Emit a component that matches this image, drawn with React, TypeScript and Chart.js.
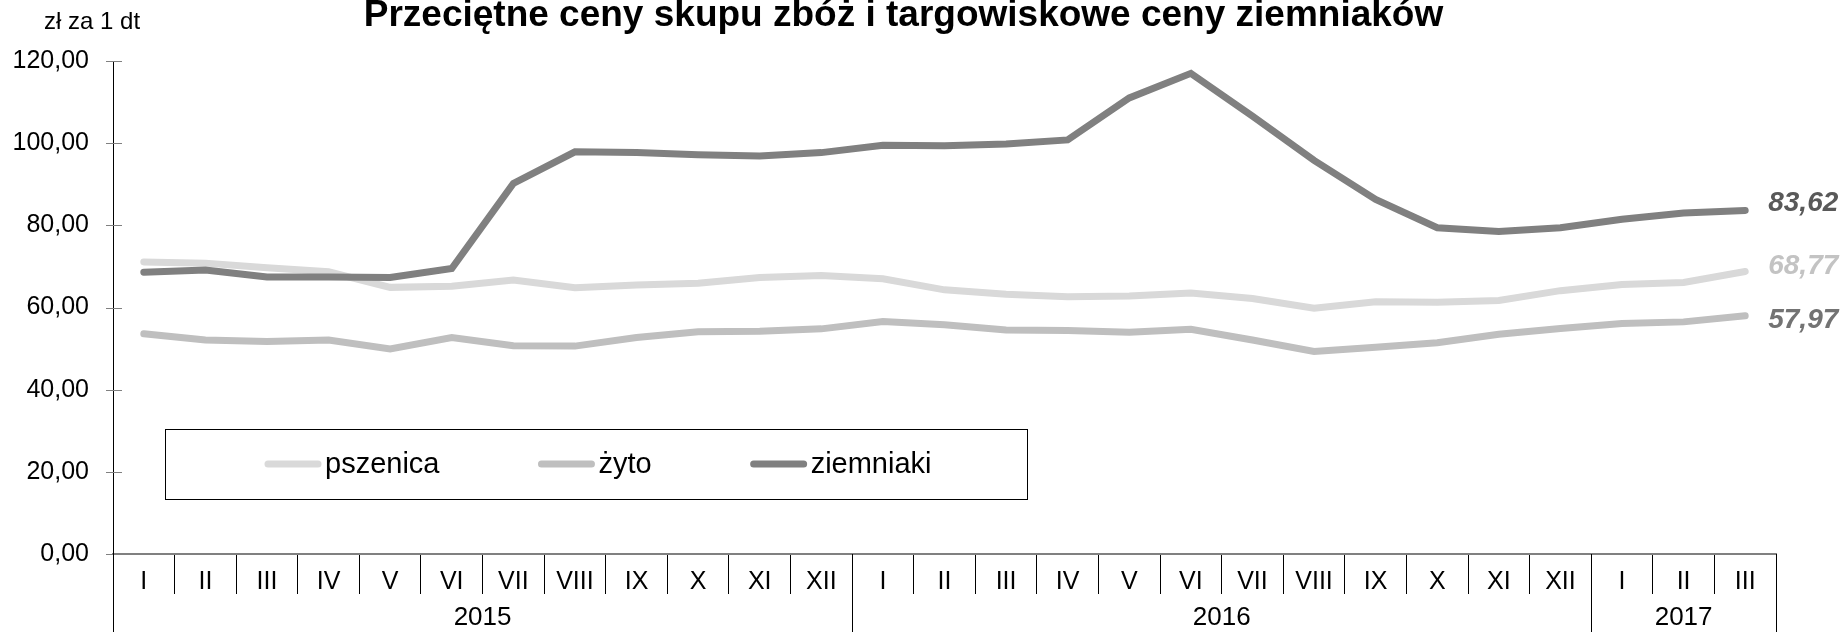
import React, { useEffect, useRef } from 'react';
import { Chart, registerables } from 'chart.js';

Chart.register(...registerables);

// ---- data ----
const months = ['I', 'II', 'III', 'IV', 'V', 'VI', 'VII', 'VIII', 'IX', 'X', 'XI', 'XII',
  'I', 'II', 'III', 'IV', 'V', 'VI', 'VII', 'VIII', 'IX', 'X', 'XI', 'XII',
  'I', 'II', 'III'];
const years = ['2015', '2016', '2017'];
const yearSpans = [12, 12, 3];

const seriesNames = ['pszenica', 'żyto', 'ziemniaki'];
const pszenica = [71.1, 70.8, 69.7, 68.7, 64.9, 65.2, 66.7, 64.8, 65.5, 65.9, 67.3, 67.8,
  67.0, 64.3, 63.2, 62.6, 62.8, 63.5, 62.2, 59.8, 61.4, 61.3, 61.7, 64.1,
  65.6, 66.1, 68.77];
const zyto = [53.6, 52.1, 51.7, 52.1, 49.9, 52.7, 50.7, 50.6, 52.7, 54.1, 54.2, 54.8,
  56.6, 55.8, 54.5, 54.4, 54.0, 54.7, 52.1, 49.3, 50.3, 51.4, 53.5, 54.9,
  56.1, 56.5, 57.97];
const ziemniaki = [68.6, 69.1, 67.4, 67.4, 67.3, 69.5, 90.2, 97.9, 97.7, 97.2, 96.9, 97.7,
  99.5, 99.4, 99.8, 100.8, 111.0, 117.0, 106.6, 95.8, 86.3, 79.4, 78.5, 79.4,
  81.5, 83.0, 83.62];

const yTicks = [0, 20, 40, 60, 80, 100, 120];
const yTickLabels = ['0,00', '20,00', '40,00', '60,00', '80,00', '100,00', '120,00'];

const titleText = 'Przeciętne ceny skupu zbóż i targowiskowe ceny ziemniaków';
const unitText = 'zł za 1 dt';

// ---- styles ----
const FONT = "'Liberation Sans', Arial, sans-serif";
const lineColors = ['#d9d9d9', '#bfbfbf', '#808080'];
const endLabelColors = ['#c3c3c3', '#737373', '#595959'];
const endLabelDy = [-5, 4, -7];

const fmt = (v: number) => v.toFixed(2).replace('.', ',');

const decorPlugin = {
  id: 'decor',
  afterDatasetsDraw(chart: any) {
    const ctx = chart.ctx;
    ctx.save();
    ctx.font = `italic bold 28px ${FONT}`;
    ctx.textAlign = 'left';
    ctx.textBaseline = 'middle';
    chart.data.datasets.forEach((ds: any, i: number) => {
      const meta = chart.getDatasetMeta(i);
      const last = meta.data[meta.data.length - 1];
      ctx.fillStyle = endLabelColors[i];
      ctx.fillText(fmt(ds.data[ds.data.length - 1]), last.x + 23, last.y + endLabelDy[i]);
    });
    ctx.restore();
  },
  afterDraw(chart: any) {
    const ctx = chart.ctx;
    const xs = chart.scales.x;
    const ys = chart.scales.y;
    const area = chart.chartArea;
    ctx.save();

    // title (partly above the top edge, as in the source picture)
    ctx.fillStyle = '#000';
    ctx.font = `bold 37px ${FONT}`;
    ctx.textAlign = 'center';
    ctx.textBaseline = 'alphabetic';
    ctx.fillText(titleText, 903.5, 26);

    // y tick marks crossing the axis
    ctx.strokeStyle = '#808080';
    ctx.lineWidth = 1;
    yTicks.forEach((v) => {
      const py = Math.round(ys.getPixelForValue(v)) + 0.5;
      ctx.beginPath();
      ctx.moveTo(area.left - 7, py);
      ctx.lineTo(area.left + 9, py);
      ctx.stroke();
    });

    // year group separators and labels
    const band = xs.getPixelForValue(1) - xs.getPixelForValue(0);
    let start = 0;
    ctx.strokeStyle = '#000';
    ctx.fillStyle = '#000';
    ctx.font = `26px ${FONT}`;
    ctx.textAlign = 'center';
    ctx.textBaseline = 'middle';
    years.forEach((yr, i) => {
      const end = start + yearSpans[i];
      const l = xs.getPixelForValue(start) - band / 2;
      const r = xs.getPixelForValue(end - 1) + band / 2;
      [l, r].forEach((px) => {
        const ax = Math.round(px) + 0.5;
        ctx.beginPath();
        ctx.moveTo(ax, area.bottom);
        ctx.lineTo(ax, chart.height);
        ctx.stroke();
      });
      ctx.fillText(yr, (l + r) / 2, 618);
      start = end;
    });

    // unit label
    ctx.textAlign = 'left';
    ctx.textBaseline = 'alphabetic';
    ctx.font = `24px ${FONT}`;
    ctx.fillText(unitText, 44, 29);

    // legend
    const bx = 165, by = 429, bw = 862, bh = 70;
    ctx.strokeStyle = '#000';
    ctx.lineWidth = 1;
    ctx.strokeRect(bx + 0.5, by + 0.5, bw, bh);
    ctx.font = `29px ${FONT}`;
    ctx.textBaseline = 'middle';
    let lx = 264;
    const ly = 464;
    seriesNames.forEach((name, i) => {
      ctx.strokeStyle = lineColors[i];
      ctx.lineWidth = 7;
      ctx.lineCap = 'round';
      ctx.beginPath();
      ctx.moveTo(lx + 4, ly);
      ctx.lineTo(lx + 54, ly);
      ctx.stroke();
      ctx.fillStyle = '#000';
      ctx.fillText(name, lx + 61, ly + 1);
      lx += 61 + ctx.measureText(name).width + 98;
    });

    ctx.restore();
  },
};

export default function App() {
  const ref = useRef<HTMLCanvasElement | null>(null);

  useEffect(() => {
    if (!ref.current) return;
    Chart.defaults.font.family = FONT;
    Chart.defaults.color = '#000';
    const series = [pszenica, zyto, ziemniaki];
    const orders = [2, 1, 0];
    const chart = new Chart(ref.current, {
      type: 'line',
      data: {
        labels: months,
        datasets: series.map((d, i) => ({
          label: seriesNames[i],
          data: d,
          borderColor: lineColors[i],
          backgroundColor: lineColors[i],
          borderWidth: 7,
          pointRadius: 0,
          pointHoverRadius: 0,
          tension: 0,
          borderCapStyle: 'round' as const,
          borderJoinStyle: 'miter' as const,
          order: orders[i],
          fill: false,
        })),
      },
      options: {
        responsive: false,
        animation: false,
        events: [],
        layout: { padding: { left: 0, right: 70, top: 61, bottom: 0 } },
        plugins: {
          legend: { display: false },
          tooltip: { enabled: false },
          title: { display: false },
        },
        scales: {
          x: {
            type: 'category',
            offset: true,
            grid: {
              offset: true,
              drawOnChartArea: false,
              drawTicks: true,
              tickLength: 40,
              color: '#000',
              lineWidth: 1,
            },
            border: { display: true, color: '#808080', width: 2 },
            ticks: {
              autoSkip: false,
              maxRotation: 0,
              minRotation: 0,
              padding: -27,
              color: '#000',
              font: { size: 25, family: FONT },
            },
            afterFit: (s: any) => { s.height = 78; },
          },
          y: {
            min: 0,
            max: 120,
            afterBuildTicks: (s: any) => { s.ticks = yTicks.map((v) => ({ value: v })); },
            grid: { display: false, drawTicks: false },
            border: { display: true, color: '#000', width: 1 },
            ticks: {
              padding: 24,
              color: '#000',
              font: { size: 25, family: FONT },
              callback: (v: any) => yTickLabels[yTicks.indexOf(Number(v))] ?? '',
            },
            afterFit: (s: any) => { s.width = 113; },
          },
        },
      },
      plugins: [decorPlugin],
    });
    return () => chart.destroy();
  }, []);

  return (
    <div style={{ position: 'absolute', left: 0, top: 0, width: 1846, height: 632, background: '#fff' }}>
      <canvas ref={ref} width={1846} height={632} style={{ width: 1846, height: 632, display: 'block' }} />
    </div>
  );
}
